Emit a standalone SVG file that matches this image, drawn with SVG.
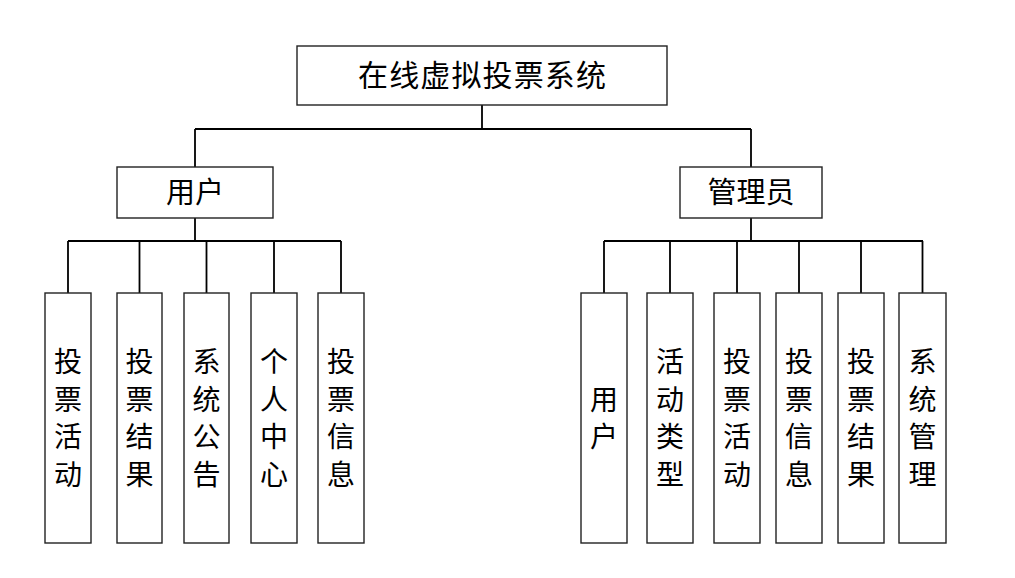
<svg xmlns="http://www.w3.org/2000/svg" width="1015" height="578" viewBox="0 0 1015 578">
<style>
.box{fill:#fff;stroke:#222;stroke-width:1.4}
.ln{fill:none;stroke:#000;stroke-width:1.8}
.t{font-family:"Noto Sans CJK SC","Noto Sans",sans-serif;fill:#000;text-anchor:middle}
.v{font-size:28px;writing-mode:vertical-rl;text-orientation:upright;letter-spacing:9.5px}
</style>
<rect width="1015" height="578" fill="#fff"/>
<g id="connectors">
<path class="ln" d="M482,105V129M195,129H751M195,129V167M751,129V167"/>
<path class="ln" d="M195,218V241M68,241H341M68,241V293M139.5,241V293M206.5,241V293M274,241V293M341,241V293"/>
<path class="ln" d="M751,218V241M604,241H923M604,241V293M670,241V293M737,241V293M799,241V293M861,241V293M922.5,241V293"/>
</g>
<g id="root"><rect class="box" x="297" y="46" width="370" height="59"/><text class="t" x="482" y="86" font-size="30" textLength="248" lengthAdjust="spacing">在线虚拟投票系统</text></g>
<g id="user"><rect class="box" x="117" y="167" width="156" height="51"/><text class="t" x="195" y="203" font-size="29">用户</text></g>
<g id="admin"><rect class="box" x="680" y="167" width="142" height="51"/><text class="t" x="751" y="203" font-size="29">管理员</text></g>
<g id="u1"><rect class="box" x="45" y="293" width="46" height="250"/><text class="t v" x="68" y="422.5">投票活动</text></g>
<g id="u2"><rect class="box" x="117" y="293" width="45" height="250"/><text class="t v" x="139.5" y="422.5">投票结果</text></g>
<g id="u3"><rect class="box" x="184" y="293" width="45" height="250"/><text class="t v" x="206.5" y="422.5">系统公告</text></g>
<g id="u4"><rect class="box" x="251" y="293" width="46" height="250"/><text class="t v" x="274" y="422.5">个人中心</text></g>
<g id="u5"><rect class="box" x="318" y="293" width="46" height="250"/><text class="t v" x="341" y="422.5">投票信息</text></g>
<g id="a1"><rect class="box" x="581" y="293" width="46" height="250"/><text class="t v" x="604" y="422.5">用户</text></g>
<g id="a2"><rect class="box" x="647" y="293" width="46" height="250"/><text class="t v" x="670" y="422.5">活动类型</text></g>
<g id="a3"><rect class="box" x="714" y="293" width="46" height="250"/><text class="t v" x="737" y="422.5">投票活动</text></g>
<g id="a4"><rect class="box" x="776" y="293" width="46" height="250"/><text class="t v" x="799" y="422.5">投票信息</text></g>
<g id="a5"><rect class="box" x="838" y="293" width="46" height="250"/><text class="t v" x="861" y="422.5">投票结果</text></g>
<g id="a6"><rect class="box" x="899" y="293" width="47" height="250"/><text class="t v" x="922.5" y="422.5">系统管理</text></g>
</svg>
